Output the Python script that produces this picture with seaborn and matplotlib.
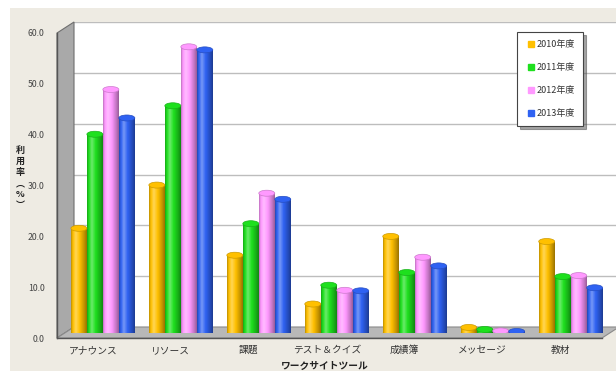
import numpy as np
import pandas as pd
import matplotlib
matplotlib.use("Agg")
import matplotlib.pyplot as plt
from matplotlib.patches import Rectangle, Polygon, Ellipse
from matplotlib.lines import Line2D
import seaborn as sns

# ---------------- data ----------------
tools = ["アナウンス", "リソース", "課題", "テスト＆クイズ", "成績簿", "メッセージ", "教材"]
years = ["2010年度", "2011年度", "2012年度", "2013年度"]
rate_2010 = [20.5, 29.0, 15.2, 5.6, 18.9, 1.0, 17.9]
rate_2011 = [39.0, 44.6, 21.4, 9.3, 11.8, 0.6, 11.0]
rate_2012 = [47.8, 56.2, 27.4, 8.3, 14.8, 0.3, 11.2]
rate_2013 = [42.2, 55.6, 26.2, 8.2, 13.1, 0.2, 8.8]
y_ticks = [0, 10, 20, 30, 40, 50, 60]
colors = ["#FFC000", "#1EE01E", "#FF99FF", "#2F62F2"]

df = pd.DataFrame({
    "tool": tools * 4,
    "year": sum([[y] * len(tools) for y in years], []),
    "rate": rate_2010 + rate_2011 + rate_2012 + rate_2013,
})

sns.set_style("white")
plt.rcParams["font.family"] = ["Noto Sans CJK JP", "DejaVu Sans"]

W, H = 616, 371
fig = plt.figure(figsize=(W / 100, H / 100), dpi=100)
fig.patch.set_facecolor("white")


def fx(x):
    return x / W


def fy(y):
    return 1 - y / H


# beige panel
fig.add_artist(Rectangle((fx(10), 0), 1, fy(8), transform=fig.transFigure,
                         facecolor="#EEEBE3", edgecolor="none", zorder=-5))

# front frame geometry (pixels)
L, R, Y0, Y60 = 57, 602, 338, 33
xlim = (-0.46, 6.53)
ylim = (0, 60)
DX, DY = 17, -11  # depth offset (back wall)


def add_axes(dx, dy, z):
    ax = fig.add_axes([fx(L + dx), fy(Y0 + dy), (R - L) / W, (Y0 - Y60) / H])
    ax.set_xlim(*xlim)
    ax.set_ylim(*ylim)
    ax.set_zorder(z)
    return ax


# back wall with grid
ax_back = add_axes(DX, DY, 0)
ax_back.set_facecolor("white")
for v in y_ticks[1:]:
    ax_back.axhline(v, color="#BDBDBD", lw=1.0)
ax_back.set_xticks([])
ax_back.set_yticks([])
for s in ax_back.spines.values():
    s.set_visible(False)

# left wall and floor
wall = Polygon([(fx(L), fy(Y0)), (fx(L), fy(Y60)), (fx(L + DX), fy(Y60 + DY)),
                (fx(L + DX), fy(Y0 + DY))], closed=True, transform=fig.transFigure,
               facecolor="#A9A9A9", edgecolor="#6E6E6E", lw=0.8, zorder=0.5)
floor = Polygon([(fx(L), fy(Y0)), (fx(R), fy(Y0)), (fx(R + DX), fy(Y0 + DY)),
                 (fx(L + DX), fy(Y0 + DY))], closed=True, transform=fig.transFigure,
                facecolor="#B8B8B8", edgecolor="#8A8A8A", lw=0.8, zorder=0.5)
fig.add_artist(wall)
fig.add_artist(floor)

# bars (mid depth)
ax_bar = add_axes(10, -5.5, 1)
ax_bar.patch.set_visible(False)
sns.barplot(data=df, x="tool", y="rate", hue="year", palette=colors, ax=ax_bar,
            width=0.82, saturation=1, legend=False, linewidth=0)
ax_bar.set_xlim(*xlim)
ax_bar.set_ylim(*ylim)
ax_bar.axis("off")

# cylinder shading derived from bar patches
grad_x = np.linspace(0, 1, 40)
shade = np.zeros((1, 40, 4))
alpha = np.interp(grad_x, [0, 0.12, 0.3, 0.55, 0.85, 1.0], [0.25, 0.0, -0.35, 0.0, 0.25, 0.4])
for i, a in enumerate(alpha):
    if a >= 0:
        shade[0, i] = [0, 0, 0, a]
    else:
        shade[0, i] = [1, 1, 1, -a]
ell_h = 6 / 5.083
for p in list(ax_bar.patches):
    x0, y0 = p.get_x(), p.get_y()
    w, h = p.get_width(), p.get_height()
    if h <= 0:
        continue
    fc = p.get_facecolor()
    ax_bar.imshow(shade, extent=[x0, x0 + w, y0, y0 + h], aspect="auto",
                  zorder=p.get_zorder() + 0.1, interpolation="bilinear")
    ax_bar.add_patch(Ellipse((x0 + w / 2, y0), w, ell_h, facecolor=fc,
                             edgecolor="none", zorder=p.get_zorder() - 0.1))
    top = Ellipse((x0 + w / 2, y0 + h), w, ell_h, facecolor=fc,
                  edgecolor=tuple(np.array(fc[:3]) * 0.8), lw=0.5,
                  zorder=p.get_zorder() + 0.2)
    ax_bar.add_patch(top)
ax_bar.set_xlim(*xlim)
ax_bar.set_ylim(*ylim)

# front axes for ticks
ax_f = add_axes(0, 0, 2)
ax_f.patch.set_visible(False)
ax_f.set_yticks(y_ticks)
ax_f.set_yticklabels([f"{v:.1f}" for v in y_ticks], fontsize=6.3, color="#444444")
ax_f.set_xticks(range(len(tools)))
ax_f.set_xticklabels(tools, fontsize=7, color="#333333")
ax_f.tick_params(axis="both", length=0)
ax_f.tick_params(axis="y", pad=9)
ax_f.tick_params(axis="x", pad=5)
for k in ["top", "right"]:
    ax_f.spines[k].set_visible(False)
ax_f.spines["left"].set_color("#555555")
ax_f.spines["bottom"].set_color("#555555")
ax_f.spines["left"].set_linewidth(1.0)
ax_f.spines["bottom"].set_linewidth(1.0)

# axis titles
fig.text(fx(325), fy(366), "ワークサイトツール", ha="center", va="center",
         fontsize=7, fontweight="bold", color="#222222")
fig.text(fx(20), fy(178), "利\n用\n率\n︵\n%\n︶", ha="center", va="center",
         fontsize=6.5, fontweight="bold", color="#222222", linespacing=1.3)

# legend
handles = [Line2D([], [], marker="s", linestyle="none", markersize=4,
                  markerfacecolor=c, markeredgecolor=c) for c in colors]
leg = fig.legend(handles, years, loc="upper left",
                 bbox_to_anchor=(fx(517), fy(32)), frameon=True, fancybox=False,
                 shadow=True, fontsize=6.5, labelspacing=1.55, handletextpad=0.1,
                 handlelength=1.2, borderpad=0.9, borderaxespad=0)
leg.get_frame().set_edgecolor("#444444")
leg.get_frame().set_linewidth(0.8)
for t in leg.get_texts():
    t.set_color("#333333")
leg.set_zorder(5)

fig.savefig("out.png", dpi=100)
